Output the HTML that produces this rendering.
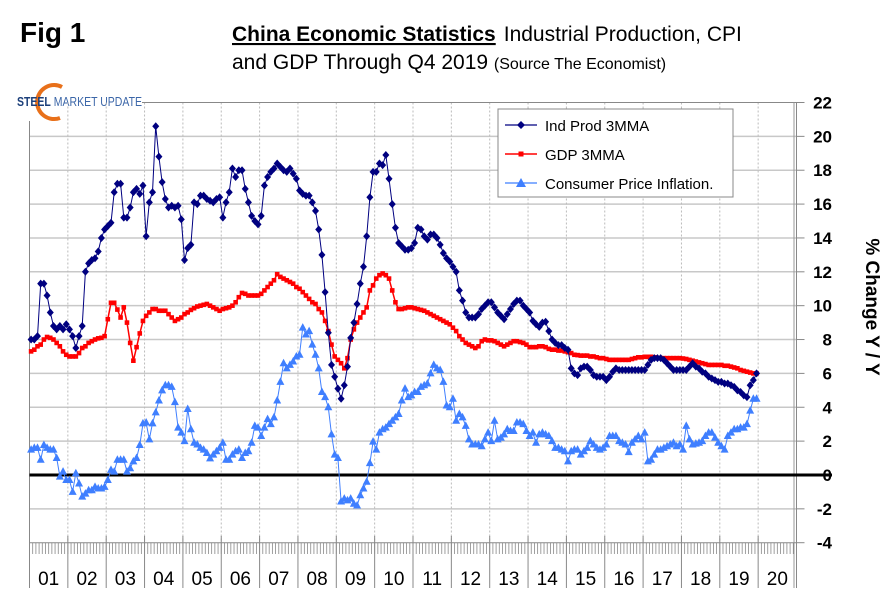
<!DOCTYPE html>
<html><head><meta charset="utf-8">
<style>
html,body{margin:0;padding:0;background:#fff;}
body{width:891px;height:599px;overflow:hidden;position:relative;font-family:"Liberation Sans",Arial,sans-serif;}
svg text{font-family:"Liberation Sans",Arial,sans-serif;}
</style></head>
<body>
<svg id="chart" width="891" height="599" viewBox="0 0 891 599" xmlns="http://www.w3.org/2000/svg">
  <text x="20" y="42" font-size="28" font-weight="bold">Fig 1</text>
  <text x="232" y="41" font-size="21"><tspan font-weight="bold" text-decoration="underline">China Economic Statistics</tspan><tspan dx="8">Industrial Production, CPI</tspan></text>
  <text x="232" y="69" font-size="21">and GDP Through Q4 2019 <tspan font-size="16">(Source The Economist)</tspan></text>
  <g>
    <path d="M62,87 A17,17 0 1,0 60,118" fill="none" stroke="#e8701a" stroke-width="4"/>
    <text x="17" y="106" font-size="12.5" fill="#1c3f7a" textLength="125" lengthAdjust="spacingAndGlyphs"><tspan font-weight="bold">STEEL</tspan><tspan fill="#3b66a8"> MARKET UPDATE</tspan></text>
  </g>
  <g id="grid"></g>
  <g id="axes"></g>
  <g id="series"></g>
  <g>
    <rect x="498" y="109" width="235" height="88" fill="#fff" stroke="#888" stroke-width="1"/>
    <g>
      <line x1="505" y1="125" x2="537" y2="125" stroke="#000080" stroke-width="1.2"/>
      <path d="M521,121 L525,125 L521,129 L517,125Z" fill="#000080"/>
      <text x="545" y="131" font-size="15">Ind Prod 3MMA</text>
    </g>
    <g>
      <line x1="505" y1="154" x2="537" y2="154" stroke="#ff0000" stroke-width="1.5"/>
      <rect x="518.5" y="151.5" width="5" height="5" fill="#ff0000"/>
      <text x="545" y="160" font-size="15">GDP 3MMA</text>
    </g>
    <g>
      <line x1="505" y1="183" x2="537" y2="183" stroke="#3f7fff" stroke-width="1.2"/>
      <path d="M521,178 L526,187 L516,187Z" fill="#3f7fff"/>
      <text x="545" y="189" font-size="15">Consumer Price Inflation.</text>
    </g>
  </g>
  <text transform="translate(866,307) rotate(90)" text-anchor="middle" font-size="19" font-weight="bold">% Change Y / Y</text>
</svg>
<script>
const years = ["01","02","03","04","05","06","07","08","09","10","11","12","13","14","15","16","17","18","19","20"];
const yTicks = [22,20,18,16,14,12,10,8,6,4,2,0,-2,-4];
const indProd = [
8.0,8.0,8.2,11.3,11.3,10.6,9.6,8.8,8.6,8.8,8.6,8.9,
8.6,8.2,7.5,8.2,8.8,12.0,12.5,12.7,12.8,13.2,14.0,14.5,
14.7,14.9,16.7,17.2,17.2,15.2,15.2,15.8,16.7,16.9,16.6,17.1,
14.1,16.1,16.7,20.6,18.8,17.3,16.3,15.8,15.9,15.8,15.9,15.1,
12.7,13.4,13.6,16.1,16.0,16.5,16.5,16.3,16.2,16.1,16.3,16.4,
15.2,16.1,16.7,18.1,17.6,18.0,18.0,16.9,16.1,15.3,15.0,14.8,
15.3,17.1,17.6,17.9,18.1,18.4,18.2,18.0,17.9,18.1,17.8,17.5,
16.8,16.6,16.5,16.5,16.1,15.6,14.5,13.0,10.8,8.4,6.5,5.8,
5.1,4.5,5.3,6.4,8.1,9.0,10.1,11.3,12.3,14.1,16.4,17.9,
17.9,18.4,18.3,18.9,17.5,16.0,14.6,13.7,13.5,13.3,13.3,13.4,
13.7,14.6,14.5,14.1,13.9,14.2,14.2,14.0,13.6,13.1,12.8,12.6,
12.3,12.0,10.9,10.3,9.6,9.3,9.3,9.3,9.5,9.8,10.0,10.2,
10.2,9.9,9.6,9.4,9.2,9.5,9.8,10.1,10.3,10.3,10.0,9.8,
9.6,9.1,8.9,8.75,9.0,9.05,8.5,8.0,7.8,7.67,7.67,7.5,
7.4,6.3,6.0,5.9,6.3,6.4,6.4,6.2,5.9,5.8,5.8,5.8,
5.6,5.8,6.1,6.3,6.2,6.2,6.2,6.2,6.2,6.2,6.2,6.2,
6.2,6.5,6.8,6.9,6.9,6.9,6.8,6.6,6.4,6.2,6.2,6.2,
6.2,6.2,6.4,6.6,6.4,6.3,6.1,6.0,5.8,5.7,5.6,5.5,
5.5,5.4,5.4,5.3,5.2,5.0,4.9,4.7,4.6,5.3,5.6,6.0];
const gdp = [
7.3,7.4,7.6,7.7,8.0,8.15,8.1,8.0,7.8,7.6,7.3,7.1,
7.0,7.0,7.0,7.2,7.5,7.6,7.8,7.9,8.0,8.07,8.1,8.2,
9.2,10.17,10.17,9.77,9.3,9.9,9.0,7.8,6.75,7.55,8.36,9.1,
9.4,9.6,9.8,9.8,9.7,9.7,9.7,9.5,9.3,9.1,9.2,9.3,
9.5,9.6,9.75,9.85,9.95,10.0,10.05,10.1,10.0,9.9,9.8,9.7,
9.8,9.85,9.9,10.0,10.2,10.5,10.75,10.7,10.6,10.6,10.6,10.6,
10.7,10.9,11.1,11.3,11.5,11.86,11.7,11.6,11.5,11.4,11.3,11.1,
11.0,10.8,10.6,10.4,10.2,10.1,9.8,9.6,9.1,8.5,7.7,7.0,
6.8,6.6,6.3,6.9,8.0,8.6,9.0,9.3,9.6,9.9,10.9,11.2,
11.6,11.8,11.9,11.8,11.6,10.9,10.2,9.8,9.8,9.85,9.9,9.9,
9.85,9.8,9.75,9.7,9.6,9.5,9.4,9.3,9.2,9.1,9.0,8.9,
8.7,8.5,8.2,8.0,7.8,7.7,7.6,7.5,7.6,7.9,8.0,7.95,
7.95,7.9,7.8,7.7,7.6,7.7,7.8,7.9,7.9,7.85,7.8,7.7,
7.55,7.55,7.55,7.6,7.6,7.55,7.45,7.4,7.4,7.35,7.35,7.3,
7.25,7.2,7.1,7.08,7.05,7.05,7.05,7.0,7.0,6.95,6.9,6.9,
6.85,6.8,6.8,6.8,6.8,6.8,6.8,6.8,6.85,6.9,6.95,6.95,
6.98,6.98,6.98,6.95,6.9,6.9,6.9,6.9,6.9,6.9,6.9,6.9,
6.88,6.85,6.8,6.75,6.7,6.65,6.6,6.55,6.5,6.5,6.5,6.5,
6.5,6.45,6.45,6.4,6.35,6.3,6.2,6.15,6.1,6.05,6.0,6.0];
const cpi = [
1.5,1.6,1.6,0.9,1.77,1.6,1.5,1.5,1.0,-0.1,0.2,-0.3,
-0.3,-1.0,0.1,-0.5,-1.28,-1.1,-0.9,-0.9,-0.7,-0.8,-0.8,-0.7,
-0.3,0.3,0.2,0.9,0.9,0.9,0.2,0.4,0.8,1.0,1.77,3.05,
3.1,2.1,3.05,3.7,4.4,5.0,5.3,5.3,5.2,4.3,2.8,2.5,
2.0,3.9,2.7,1.9,1.8,1.6,1.5,1.3,0.98,1.2,1.4,1.6,
1.9,0.9,0.9,1.2,1.4,1.5,1.0,1.3,1.4,1.9,2.9,2.8,
2.3,2.8,3.3,3.0,3.4,4.4,5.5,6.6,6.3,6.5,6.7,7.0,
7.1,8.7,8.3,8.5,7.7,7.1,6.3,4.9,4.6,4.0,2.4,1.2,
1.0,-1.57,-1.4,-1.5,-1.4,-1.7,-1.8,-1.2,-0.8,-0.4,0.7,1.97,
1.5,2.5,2.7,2.8,3.0,3.2,3.4,3.6,4.4,5.1,4.6,4.7,
4.9,4.9,5.2,5.3,5.4,6.0,6.5,6.3,6.2,5.5,4.1,4.0,
4.5,3.2,3.6,3.4,2.9,2.1,1.8,1.8,1.8,1.7,2.1,2.5,
2.0,3.2,2.1,2.2,2.4,2.7,2.6,2.6,3.1,3.1,3.0,2.6,
2.3,2.5,1.9,2.4,2.5,2.4,2.3,2.0,1.6,1.6,1.5,1.4,
0.8,1.4,1.5,1.5,1.2,1.4,1.6,2.0,1.8,1.6,1.5,1.6,
1.8,2.3,2.3,2.3,2.0,1.9,1.8,1.35,1.9,2.1,2.3,2.1,
2.5,0.8,0.9,1.2,1.5,1.5,1.6,1.7,1.8,1.9,1.7,1.8,
1.5,2.9,2.1,1.8,1.85,1.9,2.0,2.3,2.5,2.5,2.2,1.9,
1.7,1.5,2.3,2.5,2.7,2.7,2.8,2.8,3.0,3.8,4.5,4.5];

const NS='http://www.w3.org/2000/svg';
const X0=29.5, YW=38.35, YMAX=22, YMIN=-4, PT=102.5, PB=542.7;
function xMonth(m){return X0+(m+0.5)*YW/12;}
function yVal(v){return PT+(YMAX-v)*(PB-PT)/(YMAX-YMIN);}
function mk(tag,attrs,parent){const e=document.createElementNS(NS,tag);for(const k in attrs)e.setAttribute(k,attrs[k]);parent.appendChild(e);return e;}
const grid=document.getElementById('grid'), axes=document.getElementById('axes'), ser=document.getElementById('series');
const XR=X0+YW*20;

yTicks.forEach(t=>{
  const y=yVal(t);
  if(t!==0&&t!==-4&&t!==22){const g=mk('line',{x1:X0,x2:XR,y1:y,y2:y,stroke:'#c8c8c8','stroke-width':1.5},grid);
  
  }
  const tk=mk('line',{x1:XR,x2:XR+8,y1:y,y2:y,stroke:'#888','stroke-width':1},axes);
  
  
  const tx=mk('text',{x:832,y:y+6,'text-anchor':'end','font-size':17,'font-weight':'bold'},axes);
  tx.textContent=t;
  
  
});
mk('line',{x1:142,x2:XR,y1:PT,y2:PT,stroke:'#888','stroke-width':1},axes);
mk('line',{x1:X0,x2:X0,y1:121,y2:588,stroke:'#888','stroke-width':1},axes);
mk('line',{x1:XR-2.5,x2:XR-2.5,y1:PT,y2:588,stroke:'#999','stroke-width':1},axes);
mk('line',{x1:XR,x2:XR,y1:PT,y2:588,stroke:'#888','stroke-width':1},axes);
mk('line',{x1:X0,x2:XR,y1:PB,y2:PB,stroke:'#888','stroke-width':1},axes);
for(let m=0;m<240;m++){const x=X0+m*YW/12;
  mk('line',{x1:x,x2:x,y1:PB,y2:554,stroke:'#888','stroke-width':0.8},axes);}
years.forEach((yr,i)=>{
  const x=X0+i*YW;
  if(i>0){const v=mk('line',{x1:x,x2:x,y1:PT,y2:PB,stroke:'#bbb','stroke-width':1,'stroke-dasharray':'2,2'},grid);
  
  }
  mk('line',{x1:x,x2:x,y1:536,y2:588,stroke:'#888','stroke-width':1},axes);
  const t=mk('text',{x:x+YW/2,y:585,'text-anchor':'middle','font-size':19},axes);
  t.textContent=yr;
  
  
});
const z=mk('line',{x1:X0,x2:832,y1:yVal(0),y2:yVal(0),stroke:'#000','stroke-width':3},axes);



function drawSeries(data,color,shape,name,lw){
  const g=mk('g',{},ser);
  
  
  const pts=data.map((v,i)=>xMonth(i).toFixed(1)+','+yVal(v).toFixed(1)).join(' ');
  mk('polyline',{points:pts,fill:'none',stroke:color,'stroke-width':lw},g);
  data.forEach((v,i)=>{const x=xMonth(i),y=yVal(v);let e;
    if(shape==='d')e=mk('path',{d:`M${x},${y-4}L${x+3.5},${y}L${x},${y+4}L${x-3.5},${y}Z`,fill:color},g);
    else if(shape==='s')e=mk('rect',{x:x-2.3,y:y-2.3,width:4.6,height:4.6,fill:color},g);
    else e=mk('path',{d:`M${x},${y-4.5}L${x+4},${y+3}L${x-4},${y+3}Z`,fill:color},g);
    
    
  });
}
drawSeries(cpi,'#3f7fff','t','cpi-series',1);
drawSeries(gdp,'#ff0000','s','gdp-series',1.5);
drawSeries(indProd,'#000080','d','ind-prod-series',1);
</script>
</body></html>
